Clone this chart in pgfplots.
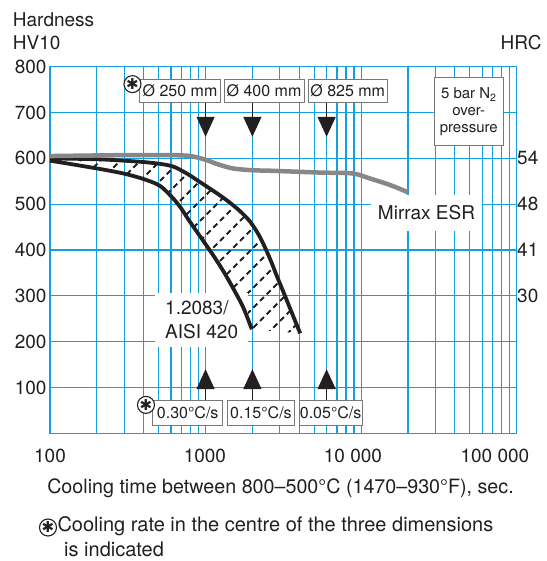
\documentclass[border=0pt]{standalone}
\usepackage{fontspec}
\setmainfont{TeX Gyre Heros}
\newfontfamily\symfont{DejaVu Sans}
\usepackage{pgfplots}
\usepackage{pgfplotstable}
\pgfplotsset{compat=1.18}
\usepgfplotslibrary{fillbetween}
\usetikzlibrary{patterns,arrows.meta}

\definecolor{gridblue}{RGB}{20,160,222}
\definecolor{ink}{RGB}{35,31,32}
\definecolor{esrgray}{RGB}{135,135,135}
\definecolor{boxgray}{RGB}{120,120,120}

% dashed diagonal hatching for the 1.2083 band
\pgfdeclarepatternformonly{dashhatch}{\pgfqpoint{-2pt}{-2pt}}{\pgfqpoint{22pt}{22pt}}{\pgfqpoint{20pt}{20pt}}{%
  \pgfsetlinewidth{1.8pt}%
  \pgfsetdash{{5.6pt}{3.83pt}}{0pt}%
  \pgfpathmoveto{\pgfqpoint{0pt}{0pt}}%
  \pgfpathlineto{\pgfqpoint{20pt}{20pt}}%
  \pgfusepath{stroke}}

\pgfplotstableread{
x y
100 600
200 598
296 595
398 592
509 588
621 582
757 567
877 553
1180 524
1400 506
1650 486
1932 462
2240 428
2594 381
2865 344
3160 309
3665 255
4060 218
}\upperband

\pgfplotstableread{
x y
100 595
200 578
296 567
398 555
509 540
621 512
700 490
757 472
830 452
966 420
1122 388
1300 354
1507 316
1750 274
1983 227
}\lowerband

\pgfplotstableread{
x y
100 605
300 607
600 607
800 605
1000 597
1200 587
1500 578
2000 574
2600 573
5400 569
8800 567
11400 556
15300 542
20000 526
}\mirrax

\begin{document}
\begin{tikzpicture}[font=\fontsize{19}{23}\selectfont, text=ink,
  star/.style={circle, draw=ink, line width=1.1pt, fill=white, inner sep=0pt,
    minimum size=17pt, font=\symfont\fontsize{15}{15}\selectfont}]
\begin{axis}[
  at={(0pt,0pt)}, anchor=south west,
  scale only axis, width=466.7pt, height=366.6pt,
  xmode=log, xmin=100, xmax=100000,
  ymin=0, ymax=800,
  xtick={100,1000,10000,100000}, xticklabels={},
  ytick={100,200,...,800},
  extra x ticks={100,990,8860,72400},
  extra x tick labels={100,1000,{10 000},{100 000}},
  extra x tick style={grid=none},
  major tick length=0pt, minor tick length=0pt,
  grid=both,
  major grid style={gridblue, line width=1.2pt},
  minor grid style={gridblue, line width=1.2pt},
  axis line style={gridblue, line width=1.2pt},
  xticklabel style={yshift=-12pt},
  /pgf/number format/assume math mode=true,
  tick label style={font=\fontsize{19}{23}\selectfont, text=ink},
  clip=false,
]
% labels on white ground
\node[fill=white, inner xsep=7pt, inner ysep=11pt] at (axis cs:26300,481) {Mirrax ESR};
\node[fill=white, align=left, anchor=west, inner xsep=10pt, inner ysep=8pt,
      font=\fontsize{19}{24}\selectfont] at (axis cs:473,247) {1.2083/\\AISI 420};

% 1.2083 / AISI 420 band
\addplot[name path=up, ink, line width=3.8pt, smooth] table {\upperband};
\addplot[name path=lo, ink, line width=3.8pt, smooth] table {\lowerband};
\addplot[pattern=dashhatch, pattern color=ink, draw=none] fill between[of=up and lo];

% Mirrax ESR
\addplot[esrgray, line width=4.5pt, smooth] table {\mirrax};

% arrows
\draw[ink, line width=1.5pt, -{Triangle[width=18pt,length=20pt]}] (axis cs:1000,721) -- (axis cs:1000,647);
\draw[ink, line width=1.5pt, -{Triangle[width=18pt,length=20pt]}] (axis cs:2000,721) -- (axis cs:2000,647);
\draw[ink, line width=1.5pt, -{Triangle[width=18pt,length=20pt]}] (axis cs:6000,721) -- (axis cs:6000,647);
\draw[ink, line width=1.5pt, -{Triangle[width=18pt,length=20pt]}] (axis cs:1000,71) -- (axis cs:1000,140);
\draw[ink, line width=1.5pt, -{Triangle[width=18pt,length=20pt]}] (axis cs:2000,71) -- (axis cs:2000,140);
\draw[ink, line width=1.5pt, -{Triangle[width=18pt,length=20pt]}] (axis cs:6000,71) -- (axis cs:6000,140);

% boxes
\tikzset{lbl/.style={draw=boxgray, fill=white, line width=1pt, inner sep=0pt,
  font=\fontsize{16}{19}\selectfont}}
\node[lbl, minimum width=81pt, minimum height=23.7pt] at (axis cs:685,747) {Ø 250 mm};
\node[lbl, minimum width=80pt, minimum height=23.7pt] at (axis cs:2375,747) {Ø 400 mm};
\node[lbl, minimum width=79pt, minimum height=23.7pt] at (axis cs:8200,747) {Ø 825 mm};
\node[lbl, minimum width=70pt, minimum height=24.3pt] at (axis cs:768,44.6) {0.30°C/s};
\node[lbl, minimum width=66.6pt, minimum height=24.3pt] at (axis cs:2270,44.6) {0.15°C/s};
\node[lbl, minimum width=63.3pt, minimum height=24.3pt] at (axis cs:6370,44.6) {0.05°C/s};
\node[lbl, align=center, minimum width=69pt, minimum height=68.3pt,
      font=\fontsize{15}{17}\selectfont] at (axis cs:49200,701.5) {5 bar N\textsubscript{2}\\over-\\pressure};
\node[star] at (axis cs:339,762) {✱};
\node[star] at (axis cs:414,62) {✱};
\end{axis}

% HRC scale on the right
\begin{axis}[
  at={(0pt,0pt)}, anchor=south west,
  scale only axis, width=466.7pt, height=366.6pt,
  xmin=0, xmax=1, ymin=0, ymax=800,
  hide x axis, axis y line*=right, axis line style={draw=none},
  ytick={300,400,500,600}, yticklabels={30,41,48,54},
  major tick length=0pt,
  yticklabel style={xshift=-3pt, font=\fontsize{19}{23}\selectfont, text=ink},
]
\addplot[draw=none] coordinates {(0,0)};
\end{axis}

\node[anchor=base west, inner sep=0pt] at (-37.3pt,406.6pt) {Hardness};
\node[anchor=base west, inner sep=0pt] at (-37.3pt,383.3pt) {HV10};
\node[anchor=base east, inner sep=0pt] at (491.7pt,384pt) {HRC};
\node[anchor=base, inner sep=0pt, font=\fontsize{19.7}{23}\selectfont] at (230.5pt,-60pt) {Cooling time between 800–500°C (1470–930°F), sec.};
\node[star] at (-2pt,-94.2pt) {✱};
\node[anchor=base west, inner sep=0pt, font=\fontsize{20}{24}\selectfont] at (7.3pt,-98.4pt) {Cooling rate in the centre of the three dimensions};
\node[anchor=base west, inner sep=0pt, font=\fontsize{20}{24}\selectfont] at (14pt,-123.4pt) {is indicated};

\pgfresetboundingbox
\path[use as bounding box] (-50pt,-127.7pt) rectangle (496pt,433.3pt);
\end{tikzpicture}
\end{document}
